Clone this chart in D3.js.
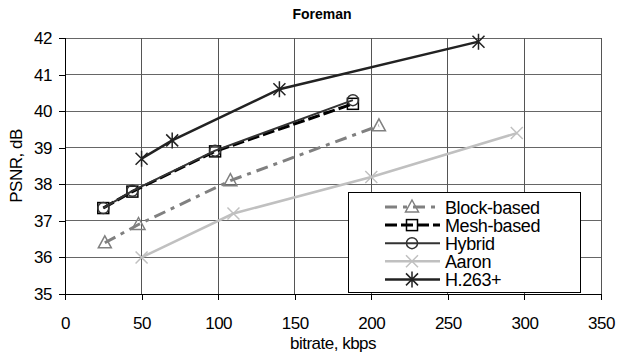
<!DOCTYPE html>
<html><head><meta charset="utf-8">
<script src="https://cdn.jsdelivr.net/npm/d3@7"></script>
<style>body{margin:0;background:#fff}svg{display:block}text{font-family:"Liberation Sans",Arial,sans-serif}</style>
</head><body>
<svg id="c" width="619" height="356"></svg>
<script>
const title = "Foreman";
const xLabel = "bitrate, kbps";
const yLabel = "PSNR, dB";
const xTicks = [0,50,100,150,200,250,300,350];
const yTicks = [35,36,37,38,39,40,41,42];
const seriesNames = ["Block-based","Mesh-based","Hybrid","Aaron","H.263+"];
const blockX = [26,48,108,205];
const blockY = [36.4,36.9,38.1,39.6];
const meshX = [25,44,98,188];
const meshY = [37.35,37.8,38.9,40.2];
const hybridX = [25,44,98,188];
const hybridY = [37.35,37.82,38.92,40.3];
const aaronX = [50,110,200,295];
const aaronY = [36.0,37.2,38.2,39.4];
const h263X = [50,70,140,270];
const h263Y = [38.7,39.2,40.6,41.9];

const svg = d3.select("#c");
const x = d3.scaleLinear().domain([0,350]).range([65,601]);
const y = d3.scaleLinear().domain([35,42]).range([294,38]);

// gridlines
const g = svg.append("g");
g.selectAll(".hg").data(yTicks).enter().append("line")
 .attr("x1",x(0)).attr("x2",x(350)).attr("y1",d=>y(d)).attr("y2",d=>y(d))
 .attr("stroke","#666").attr("stroke-width",1).attr("shape-rendering","crispEdges");
g.selectAll(".vg").data(xTicks).enter().append("line")
 .attr("y1",y(35)).attr("y2",y(42)).attr("x1",d=>x(d)).attr("x2",d=>x(d))
 .attr("stroke","#555").attr("stroke-width",1).attr("shape-rendering","crispEdges");

// axes
const xa = svg.append("g").attr("transform",`translate(0,${y(35)})`)
 .call(d3.axisBottom(x).tickValues(xTicks).tickFormat(d3.format("d")).tickSize(6).tickPadding(17));
const ya = svg.append("g").attr("transform",`translate(${x(0)},0)`)
 .call(d3.axisLeft(y).tickValues(yTicks).tickFormat(d3.format("d")).tickSize(6).tickPadding(7));
[xa,ya].forEach(a=>{
  a.select(".domain").remove();
  a.selectAll("line").attr("stroke","#000").attr("shape-rendering","crispEdges");
  a.selectAll("text").attr("font-size","17px").attr("fill","#000")
   .attr("font-family","'Liberation Sans',Arial,sans-serif").style("letter-spacing","-0.5px");
});
svg.append("line").attr("x1",x(0)).attr("x2",x(350)).attr("y1",y(35)).attr("y2",y(35)).attr("stroke","#000").attr("shape-rendering","crispEdges");
svg.append("line").attr("x1",x(0)).attr("x2",x(0)).attr("y1",y(35)).attr("y2",y(42)).attr("stroke","#000").attr("shape-rendering","crispEdges");

// titles
svg.append("text").attr("x",322).attr("y",19).attr("text-anchor","middle")
 .attr("font-size","14px").attr("font-weight","bold").text(title);
svg.append("text").attr("x",333).attr("y",349).attr("text-anchor","middle")
 .attr("font-size","17px").style("letter-spacing","-0.5px").text(xLabel);
svg.append("text").attr("transform","translate(22,166) rotate(-90)").attr("text-anchor","middle")
 .attr("font-size","17px").style("letter-spacing","-0.5px").text(yLabel);

// marker shapes
function marker(sel, type, color){
  if(type==="tri"){
    sel.append("path").attr("d","M0,-7L6.5,5L-6.5,5Z").attr("fill","none").attr("stroke",color).attr("stroke-width",1.5);
  } else if(type==="sq"){
    sel.append("rect").attr("x",-5.5).attr("y",-5.5).attr("width",11).attr("height",11).attr("fill","none").attr("stroke",color).attr("stroke-width",1.5);
  } else if(type==="circ"){
    sel.append("circle").attr("r",5.5).attr("fill","none").attr("stroke",color).attr("stroke-width",1.5);
  } else if(type==="x"){
    sel.append("path").attr("d","M-6,-6L6,6M-6,6L6,-6").attr("stroke",color).attr("stroke-width",1.5);
  } else if(type==="star"){
    sel.append("path").attr("d","M-6,-6L6,6M-6,6L6,-6M0,-8L0,8").attr("stroke",color).attr("stroke-width",1.5);
  }
}

const series = [
  {name:seriesNames[3], xs:aaronX, ys:aaronY, color:"#c0c0c0", w:2.5, dash:null, m:"x", mc:"#c0c0c0"},
  {name:seriesNames[0], xs:blockX, ys:blockY, color:"#808080", w:3, dash:"12,6,4,6", m:"tri", mc:"#808080"},
  {name:seriesNames[1], xs:meshX, ys:meshY, color:"#000", w:3, dash:"12,4", m:"sq", mc:"#000"},
  {name:seriesNames[2], xs:hybridX, ys:hybridY, color:"#333", w:2, dash:null, m:"circ", mc:"#333"},
  {name:seriesNames[4], xs:h263X, ys:h263Y, color:"#222", w:2.5, dash:null, m:"star", mc:"#222"}
];
const line = d3.line().x(d=>x(d[0])).y(d=>y(d[1]));
series.forEach(s=>{
  const pts = s.xs.map((v,i)=>[v,s.ys[i]]);
  svg.append("path").datum(pts).attr("d",line).attr("fill","none")
   .attr("stroke",s.color).attr("stroke-width",s.w).attr("stroke-dasharray",s.dash);
  pts.forEach(p=>{
    marker(svg.append("g").attr("transform",`translate(${x(p[0])},${y(p[1])})`), s.m, s.mc);
  });
});

// legend
const lg = svg.append("g");
lg.append("rect").attr("x",348.5).attr("y",192.5).attr("width",232).attr("height",100)
 .attr("fill","#fff").attr("stroke","#000").attr("stroke-width",1);
const legendOrder = [1,2,3,0,4];
legendOrder.forEach((si,i)=>{
  const s = series[si];
  const cy = 207 + i*18.1;
  lg.append("line").attr("x1",385).attr("x2",440).attr("y1",cy).attr("y2",cy)
   .attr("stroke",s.color).attr("stroke-width",s.w).attr("stroke-dasharray",s.dash);
  marker(lg.append("g").attr("transform",`translate(412,${cy})`), s.m, s.mc);
  lg.append("text").attr("x",445).attr("y",cy+6.5).attr("font-size","18px")
   .style("letter-spacing","-0.4px").text(s.name);
});
</script>
</body></html>
